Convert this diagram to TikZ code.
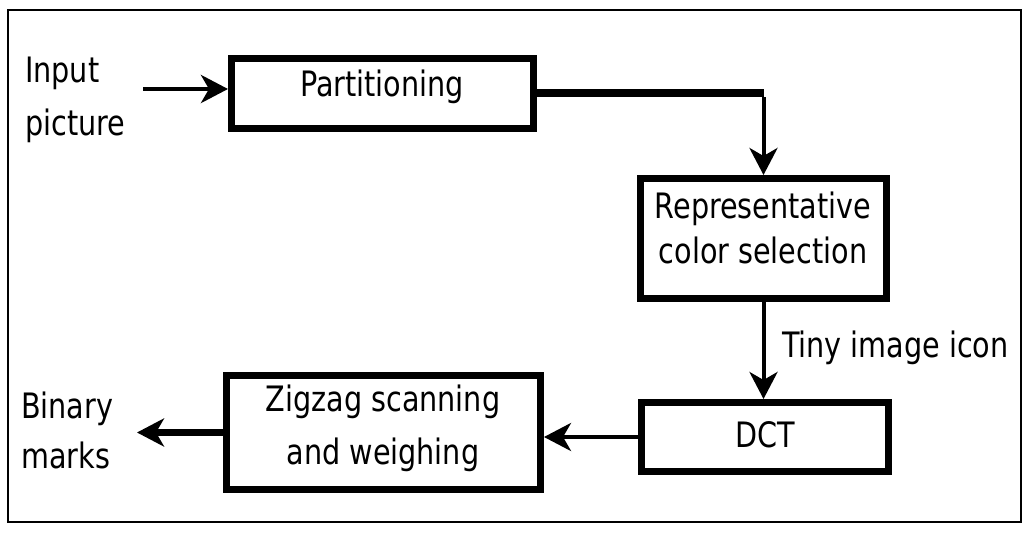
\documentclass[tikz,border=0pt]{standalone}
\usepackage{fontspec}
\setmainfont{DejaVu Sans Condensed}[FakeStretch=0.91]
\usetikzlibrary{arrows.meta}

\tikzset{
  stagebox/.style={draw=black, line width=7pt, inner sep=0pt},
  boxtext/.style={inner sep=0pt, align=center, anchor=north},
  label/.style={inner sep=0pt, align=left},
  flow/.style={line width=4.5pt, -{Stealth[length=27pt, width=28pt, inset=8pt]}},
}
\newcommand{\txt}[1]{\fontsize{35}{#1}\selectfont}

\begin{document}
\begin{tikzpicture}[x=1pt, y=-1pt]
  \useasboundingbox (0,0) rectangle (1028,534);
  \fill[white] (0,0) rectangle (1028,534);

  % outer frame
  \draw[line width=2pt] (8,10) rectangle (1021,522);

  % processing stages
  \node[stagebox, minimum width=302pt, minimum height=70pt] (part) at (382.5,93.5) {};
  \node[stagebox, minimum width=246pt, minimum height=120pt] (rep) at (763.5,238.5) {};
  \node[stagebox, minimum width=247pt, minimum height=69pt] (dct) at (765,437) {};
  \node[stagebox, minimum width=314pt, minimum height=114pt] (zig) at (383.5,432.5) {};

  % stage captions
  \node[boxtext, font=\txt{45}] (partT) at (382,70) {Partitioning};
  \node[boxtext, font=\txt{45}] (repT) at (763,192) {Representative\\color selection};
  \node[boxtext, font=\txt{45}] (dctT) at (765,421) {DCT};
  \node[boxtext, font=\txt{53}] (zigT) at (383,385) {Zigzag scanning\\and weighing};

  % free labels
  \node[label, anchor=north west, font=\txt{53}] (inp) at (25,57) {Input\\picture};
  \node[label, anchor=north west, font=\txt{50}] (bin) at (21,392) {Binary\\marks};
  \node[label, anchor=base west, font=\txt{45}] (tiny) at (782,358) {Tiny image icon};

  % connector end points
  \coordinate (inA) at (143,89);
  \coordinate (outB) at (137,432.5);

  % connectors
  \draw[flow] (inA) -- (inA -| part.west);
  \draw[line width=8pt] (part.east) -- (part.east -| rep.north) coordinate (corner);
  \draw[flow, line width=4pt] ([yshift=-4pt]corner) -- (rep.north);
  \draw[flow, line width=4pt] (rep.south) -- (rep.south |- dct.north);
  \draw[flow, line width=4pt] (dct.west) -- (dct.west -| zig.east);
  \draw[flow, line width=7pt] (zig.west) -- (outB);
\end{tikzpicture}
\end{document}
